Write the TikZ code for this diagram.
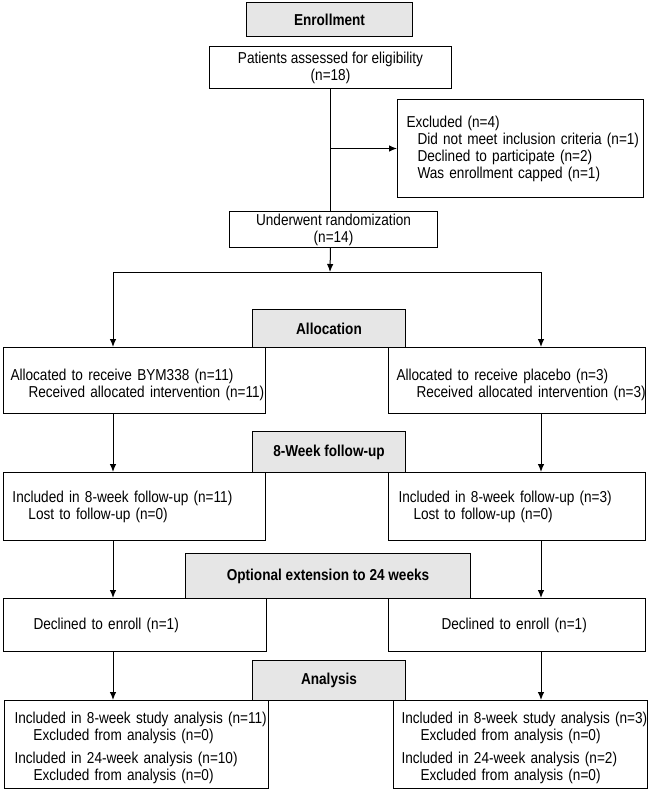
\documentclass[tikz,border=0pt]{standalone}
\usepackage{fontspec}
\setmainfont{Liberation Sans}[FakeStretch=0.86]
\usetikzlibrary{arrows.meta,positioning}
\definecolor{hdrgray}{RGB}{230,230,230}
\newcommand{\txtsize}{\fontsize{15.8}{17}\selectfont}
\newcommand{\lw}{1pt}
\newcommand{\fline}[2][0]{\mbox{\hspace*{#1pt}#2}}

\begin{document}
\begin{tikzpicture}[x=1pt,y=-1pt,line width=\lw,>={Latex[length=8pt,width=6.5pt]}]

	\useasboundingbox (0,0) rectangle (650,792);
	\tikzset{stagebox/.style={draw, fill=hdrgray, font=\txtsize\bfseries, anchor=north west, inner sep=0pt, align=center}}
	\tikzset{flowbox/.style={draw, anchor=north west, font=\txtsize, inner ysep=0pt}}
	\tikzset{droptext/.style={execute at begin node={\rule{0pt}{#1}}}}

	% enrollment
	\node[stagebox, minimum width=166pt, minimum height=34pt] (enrol) at (246,2) {Enrollment};
	\node[flowbox, align=center, inner xsep=0pt, minimum width=242pt, minimum height=42pt] (assess) at (209,46)
		{Patients assessed for eligibility\\(n=18)};
	\node[flowbox, align=left, inner xsep=9pt, text width=228pt, minimum height=98pt] (excl) at (397,99)
		{\fline{Excluded (n=4)}\\\fline[11]{Did not meet inclusion criteria (n=1)}\\
		 \fline[11]{Declined to participate (n=2)}\\\fline[11]{Was enrollment capped (n=1)}};
	\node[flowbox, align=center, inner xsep=0pt, minimum width=208pt, minimum height=36pt] (rand) at (229,211)
		{Underwent randomization\\(n=14)};

	% allocation
	\node[stagebox, minimum width=153pt, minimum height=38pt] (allochdr) at (252,309) {Allocation};
	\node[flowbox, droptext=21pt, align=left, inner xsep=7pt, text width=248pt, minimum height=66pt] (allocL) at (3,347)
		{\fline{Allocated to receive BYM338 (n=11)}\\\fline[18]{Received allocated intervention (n=11)}};
	\node[flowbox, droptext=21pt, align=left, inner xsep=8pt, text width=241pt, minimum height=66pt] (allocR) at (388,347)
		{\fline{Allocated to receive placebo (n=3)}\\\fline[20]{Received allocated intervention (n=3)}};

	% follow-up
	\node[stagebox, minimum width=153pt, minimum height=41pt] (fuhdr) at (252,431) {8-Week follow-up};
	\node[flowbox, align=left, inner xsep=9pt, text width=244pt, minimum height=68pt] (fuL) at (3,472)
		{\fline{Included in 8-week follow-up (n=11)}\\\fline[16]{Lost to follow-up (n=0)}};
	\node[flowbox, align=left, inner xsep=10pt, text width=237pt, minimum height=68pt] (fuR) at (388,472)
		{\fline{Included in 8-week follow-up (n=3)}\\\fline[15]{Lost to follow-up (n=0)}};

	% extension
	\node[stagebox, minimum width=285pt, minimum height=45pt] (exthdr) at (185,553) {Optional extension to 24 weeks};
	\node[flowbox, align=left, inner xsep=30pt, text width=203pt, minimum height=53pt] (decL) at (3,598)
		{\fline{Declined to enroll (n=1)}};
	\node[flowbox, align=left, inner xsep=53pt, text width=151pt, minimum height=53pt] (decR) at (388,598)
		{\fline{Declined to enroll (n=1)}};

	% analysis
	\node[stagebox, minimum width=153pt, minimum height=40pt] (anahdr) at (252,660) {Analysis};
	\node[flowbox, droptext=18pt, align=left, inner xsep=10pt, text width=244pt, minimum height=88pt] (anaL) at (4,700)
		{\fline{Included in 8-week study analysis (n=11)}\\\fline[19]{Excluded from analysis (n=0)}\\[6pt]
		 \fline{Included in 24-week analysis (n=10)}\\\fline[19]{Excluded from analysis (n=0)}};
	\node[flowbox, droptext=18pt, align=left, inner xsep=8pt, text width=238pt, minimum height=88pt] (anaR) at (393,700)
		{\fline{Included in 8-week study analysis (n=3)}\\\fline[19]{Excluded from analysis (n=0)}\\[6pt]
		 \fline{Included in 24-week analysis (n=2)}\\\fline[19]{Excluded from analysis (n=0)}};

	% connectors
	\coordinate (split) at (330,272);
	\coordinate (brL) at (113,272);
	\coordinate (brR) at (541,272);
	\draw (assess.south) -- (assess.south |- rand.north);
	\draw[->] (assess.south |- excl.west) -- (excl.west);
	\draw[->] (rand.south -| assess.south) -- (split);
	\draw (brL) -- (brR);
	\draw[->] (brL) -- (brL |- allocL.north);
	\draw[->] (brR) -- (brR |- allocR.north);
	\foreach \a/\b in {allocL/fuL, fuL/decL, decL/anaL}
		\draw[->] (\a.south -| brL) -- (\b.north -| brL);
	\foreach \a/\b in {allocR/fuR, fuR/decR, decR/anaR}
		\draw[->] (\a.south -| brR) -- (\b.north -| brR);
	%\draw[help lines] (0,0) grid[step=50] (650,792);

\end{tikzpicture}
\end{document}
